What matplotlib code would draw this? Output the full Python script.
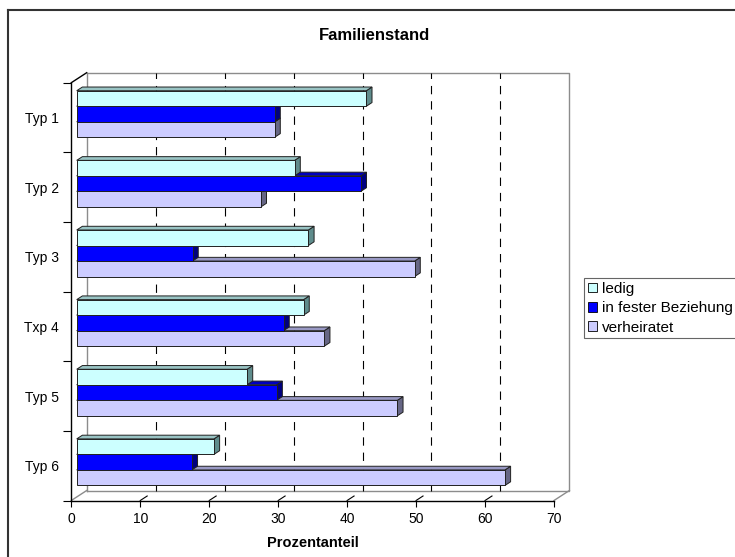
import matplotlib.pyplot as plt
from matplotlib.patches import Polygon, Patch
from matplotlib.lines import Line2D

plt.rcParams['font.family'] = ['Liberation Sans', 'DejaVu Sans']
plt.rcParams['lines.scale_dashes'] = False

# data (percent)
categories = ['Typ 1', 'Typ 2', 'Typ 3', 'Txp 4', 'Typ 5', 'Typ 6']
ledig = [42.0, 31.6, 33.6, 32.9, 24.7, 19.9]
fester = [28.7, 41.2, 16.8, 30.0, 29.0, 16.7]
verheiratet = [28.7, 26.7, 49.0, 35.9, 46.5, 62.1]
series_names = ['ledig', 'in fester Beziehung', 'verheiratet']
x_ticks = [0, 10, 20, 30, 40, 50, 60, 70]

values = [ledig, fester, verheiratet]
# front / top / side colours of each series
front_cols = ['#CCFFFF', '#0000FF', '#CCCCFF']
top_cols = ['#99C4C4', '#0000BF', '#9999C4']
side_cols = ['#5F8C8C', '#000080', '#666685']

n = len(categories)
fig = plt.figure(figsize=(7.35, 5.57), dpi=100)
ax = fig.add_axes([71.3 / 735, 56.5 / 557, 482.7 / 735, 417.8 / 557])
ax.set_xlim(0, 70)
ax.set_ylim(0, n)

# depth of the fake 3d box: pixels -> data units
depth_px = (15.4, 10.0)
bb = ax.get_window_extent()
ddx = depth_px[0] * 70 / bb.width
ddy = depth_px[1] * n / bb.height


def P(x, y, d):
    return (x + d * ddx, y + d * ddy)


#walls
grey = '#8C8C8C'
wall = [P(0, 0, 1), P(0, n, 1), P(70, n, 1), P(70, 0, 1), P(0, 0, 1)]
ax.plot([p[0] for p in wall], [p[1] for p in wall], color=grey, lw=1, clip_on=False, zorder=1)
for (x, y, c) in [(0, n, 'black'), (0, 0, grey), (70, 0, grey)]:
    a, b = P(x, y, 0), P(x, y, 1)
    ax.plot([a[0], b[0]], [a[1], b[1]], color=c, lw=1, clip_on=False, zorder=1)

#gridlines on back wall + small floor marks
for x in x_ticks[1:-1]:
    a, b = P(x, 0, 1), P(x, n, 1)
    ax.plot([a[0], b[0]], [a[1], b[1]], color='black', lw=0.8,
            linestyle=(0, (6, 5)), clip_on=False, zorder=1)
    a, b = P(x, 0, 0), P(x, 0, 0.45)
    ax.plot([a[0], b[0]], [a[1], b[1]], color='black', lw=0.8, clip_on=False, zorder=1)

#bars
h = 0.223
f0, f1 = 0.35, 0.72
for i in range(n):
    yc = n - i - 0.5
    for j in [2, 1, 0]:
        v = values[j][i]
        y1 = yc + 1.5 * h - j * h
        y0 = y1 - h
        side = [P(v, y0, f0), P(v, y0, f1), P(v, y1, f1), P(v, y1, f0)]
        top = [P(0, y1, f0), P(v, y1, f0), P(v, y1, f1), P(0, y1, f1)]
        front = [P(0, y0, f0), P(v, y0, f0), P(v, y1, f0), P(0, y1, f0)]
        for pts, col in [(side, side_cols[j]), (top, top_cols[j]), (front, front_cols[j])]:
            ax.add_patch(Polygon(pts, closed=True, facecolor=col, edgecolor='#202020',
                                 lw=0.7, clip_on=False, zorder=3))

#axes
for s in ['top', 'right']:
    ax.spines[s].set_visible(False)
for s in ['left', 'bottom']:
    ax.spines[s].set_linewidth(1)
ax.patch.set_alpha(0)
ax.set_xticks(x_ticks)
ax.tick_params(axis='x', length=4, width=0.8, pad=4, labelsize=10)
ax.set_yticks([n - i - 0.5 for i in range(n)], categories)
ax.set_yticks(range(n + 1), minor=True)
ax.tick_params(axis='y', which='major', length=0, pad=9, labelsize=10)
ax.tick_params(axis='y', which='minor', length=6, width=0.8)

fig.text(375 / 735, 1 - 36 / 557, 'Familienstand', ha='center', va='center',
         fontsize=12, fontweight='bold')
fig.text(312.6 / 735, 1 - 543 / 557, 'Prozentanteil', ha='center', va='center',
         fontsize=10.5, fontweight='bold')

handles = [Patch(facecolor=c, edgecolor='black', lw=0.6) for c in front_cols]
leg = fig.legend(handles, series_names, loc='upper left', bbox_to_anchor=(584 / 735, 1 - 278 / 557),
                 borderaxespad=0, frameon=True, fancybox=False, edgecolor='#404040',
                 borderpad=0.25, handlelength=0.6, handleheight=0.6, handletextpad=0.3,
                 labelspacing=0.35, fontsize=11)
leg.get_frame().set_linewidth(0.8)

#outer chart frame (cut at right and bottom)
fig.add_artist(Line2D([8 / 735, 1], [1 - 10 / 557, 1 - 10 / 557], transform=fig.transFigure,
                      color='#333333', lw=1.5))
fig.add_artist(Line2D([8 / 735, 8 / 735], [0, 1 - 10 / 557], transform=fig.transFigure,
                      color='#333333', lw=1.5))

fig.savefig('out.png', dpi=100)
